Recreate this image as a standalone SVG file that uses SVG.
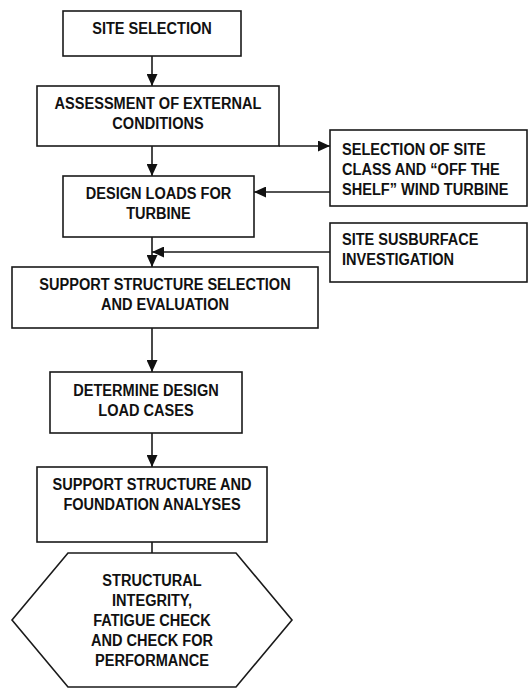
<svg xmlns="http://www.w3.org/2000/svg" width="528" height="688" viewBox="0 0 528 688">
<style>
.box{fill:#fff;stroke:#1a1a1a;stroke-width:1.6}
.t{font-family:"Liberation Sans",Arial,sans-serif;font-weight:bold;font-size:17px;fill:#111;text-anchor:middle}
.l{text-anchor:start}
.c{fill:none;stroke:#1a1a1a;stroke-width:1.6}
</style>
<defs>
<marker id="ah" markerUnits="userSpaceOnUse" markerWidth="12" markerHeight="11" refX="12" refY="5.5" orient="auto">
<path d="M0,0 L12,5.5 L0,11 z" fill="#111"/>
</marker>
</defs>
<rect width="528" height="688" fill="#fff"/>
<g id="connectors">
<line class="c" x1="152" y1="56" x2="152" y2="86" marker-end="url(#ah)"/>
<line class="c" x1="152" y1="146" x2="152" y2="176" marker-end="url(#ah)"/>
<line class="c" x1="279" y1="146" x2="330" y2="146" marker-end="url(#ah)"/>
<line class="c" x1="330" y1="192" x2="254" y2="192" marker-end="url(#ah)"/>
<line class="c" x1="152" y1="237" x2="152" y2="267" marker-end="url(#ah)"/>
<line class="c" x1="330" y1="252" x2="152" y2="252" marker-end="url(#ah)"/>
<line class="c" x1="152" y1="328" x2="152" y2="372" marker-end="url(#ah)"/>
<line class="c" x1="152" y1="433" x2="152" y2="467" marker-end="url(#ah)"/>
<line class="c" x1="152" y1="542" x2="152" y2="553"/>
</g>
<g id="site-selection">
<rect class="box" x="63" y="11" width="178" height="45"/>
<g transform="translate(152 0) scale(0.856 1)"><text class="t" x="0" y="34">SITE SELECTION</text></g>
</g>
<g id="assessment">
<rect class="box" x="37" y="86" width="242" height="60"/>
<g transform="translate(158 0) scale(0.856 1)"><text class="t" x="0" y="109">ASSESSMENT OF EXTERNAL</text><text class="t" x="0" y="129">CONDITIONS</text></g>
</g>
<g id="site-class">
<rect class="box" x="330" y="130" width="197" height="76"/>
<g transform="translate(342 0) scale(0.856 1)"><text class="t l" x="0" y="155">SELECTION OF SITE</text><text class="t l" x="0" y="175">CLASS AND “OFF THE</text><text class="t l" x="0" y="195">SHELF” WIND TURBINE</text></g>
</g>
<g id="design-loads">
<rect class="box" x="63" y="176" width="191" height="61"/>
<g transform="translate(158.5 0) scale(0.856 1)"><text class="t" x="0" y="199">DESIGN LOADS FOR</text><text class="t" x="0" y="219">TURBINE</text></g>
</g>
<g id="subsurface">
<rect class="box" x="330" y="223" width="197" height="59"/>
<g transform="translate(342 0) scale(0.856 1)"><text class="t l" x="0" y="245">SITE SUSBURFACE</text><text class="t l" x="0" y="265">INVESTIGATION</text></g>
</g>
<g id="support-selection">
<rect class="box" x="12" y="267" width="306" height="61"/>
<g transform="translate(165 0) scale(0.856 1)"><text class="t" x="0" y="290">SUPPORT STRUCTURE SELECTION</text><text class="t" x="0" y="310">AND EVALUATION</text></g>
</g>
<g id="load-cases">
<rect class="box" x="50" y="372" width="192" height="61"/>
<g transform="translate(146 0) scale(0.856 1)"><text class="t" x="0" y="396">DETERMINE DESIGN</text><text class="t" x="0" y="416">LOAD CASES</text></g>
</g>
<g id="analyses">
<rect class="box" x="37" y="467" width="230" height="75"/>
<g transform="translate(152 0) scale(0.856 1)"><text class="t" x="0" y="490">SUPPORT STRUCTURE AND</text><text class="t" x="0" y="510">FOUNDATION ANALYSES</text></g>
</g>
<g id="integrity-check">
<polygon class="box" points="68,553 236,553 292,620 236,687 68,687 12,620"/>
<g transform="translate(152 0) scale(0.856 1)"><text class="t" x="0" y="586">STRUCTURAL</text><text class="t" x="0" y="606">INTEGRITY,</text><text class="t" x="0" y="626">FATIGUE CHECK</text><text class="t" x="0" y="646">AND CHECK FOR</text><text class="t" x="0" y="666">PERFORMANCE</text></g>
</g>
</svg>
